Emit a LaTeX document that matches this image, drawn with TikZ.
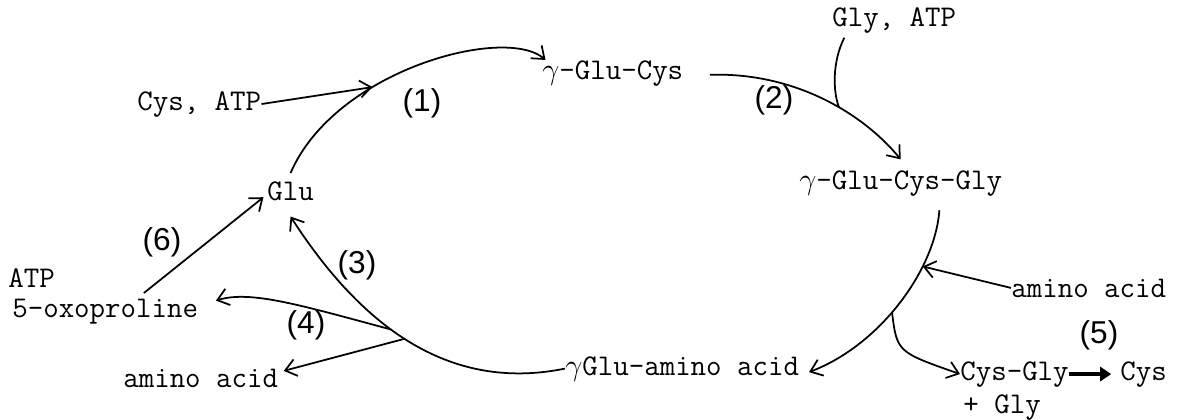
\documentclass[tikz,border=0pt]{standalone}
\usepackage{fontspec}
\newfontfamily\numfont{Liberation Sans}
\usetikzlibrary{arrows.meta}

\begin{document}
\begin{tikzpicture}[x=0.02cm,y=-0.02cm,
  txt/.style={font=\ttfamily\fontsize{17.1}{20}\selectfont,inner sep=0pt,anchor=base west},
  num/.style={font=\numfont\fontsize{18}{20}\selectfont,inner sep=0pt},
  arr/.style={line width=1pt,-{Straight Barb[length=2.2mm,width=3.4mm]}}]

\useasboundingbox (0,0) rectangle (1185,419);

\node[txt] (cysatp) at (137,110) {Cys, ATP};
\node[txt] (glucys) at (542,79) {$\gamma$-Glu-Cys};
\node[txt] (glyatp) at (832,27) {Gly, ATP};
\node[txt] (gcg) at (799,189) {$\gamma$-Glu-Cys-Gly};
\node[txt] (glu) at (267,200) {Glu};
\node[txt] (aar) at (1011,297) {amino acid};
\node[txt] (gaa) at (565,375) {$\gamma$Glu-amino acid};
\node[txt] (cysgly) at (960,380) {Cys-Gly};
\node[txt] (cys) at (1120,380) {Cys};
\node[txt] (plusgly) at (963,413) {+ Gly};
\node[txt] (atp) at (8,287) {ATP};
\node[txt] (oxo) at (12,317) {5-oxoproline};
\node[txt] (aal) at (123,387) {amino acid};

\node[num] (r1) at (422,103) {(1)};
\node[num] (r2) at (774,100) {(2)};
\node[num] (r3) at (357,265) {(3)};
\node[num] (r4) at (306,325) {(4)};
\node[num] (r5) at (1099,335) {(5)};
\node[num] (r6) at (162,242) {(6)};

\draw[arr] ([yshift=4.5pt]glu.north) .. controls (335,70) and (505,25) .. ([xshift=2pt]glucys.north west) coordinate[pos=0.35] (j1);
\draw[arr] (cysatp.east) -- (j1);

\draw[arr] ([xshift=15pt,yshift=-1pt]glucys.east) .. controls (790,72) and (860,110) .. ([yshift=6pt]gcg.north) coordinate[pos=0.6] (j2);
\draw[line width=1pt] ([xshift=7pt,yshift=-2pt]glyatp.south west) .. controls (832,62) and (833,92) .. (j2);

\draw[arr] ([xshift=22pt,yshift=-8pt]gcg.south) .. controls (935,270) and (880,345) .. ([xshift=5.5pt,yshift=-2pt]gaa.east) coordinate[pos=0.3] (j3) coordinate[pos=0.55] (j4);
\draw[arr] (aar.west) -- (j3);
\draw[arr] (j4) .. controls (897,352) .. (cysgly.west);
\draw[line width=1.8pt,-{Triangle[length=2.2mm,width=2.8mm]},shorten >=5pt] (cysgly) -- (cys);

\draw[arr] (gaa.west) .. controls (460,390) and (370,340) .. ([yshift=-9pt]glu.south) coordinate[pos=0.55] (j6) coordinate[pos=0.6] (j5);
\draw[arr] (j5) .. controls (300,305) and (250,290) .. ([xshift=10pt,yshift=6pt]oxo.east);
\draw[arr] (j6) -- ([xshift=3pt,yshift=4pt]aal.east);
\draw[arr] ([xshift=22pt,yshift=3pt]oxo.north) -- ([xshift=-2pt,yshift=2pt]glu.south west);
\end{tikzpicture}
\end{document}
